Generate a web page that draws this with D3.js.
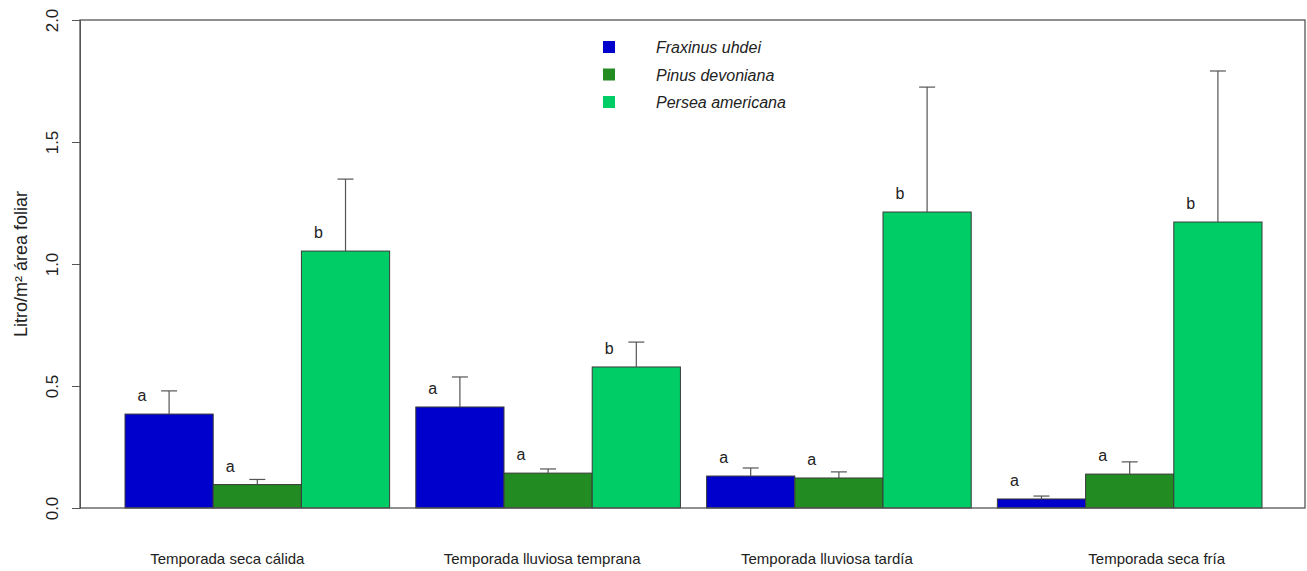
<!DOCTYPE html>
<html lang="es">
<head>
    <meta charset="UTF-8">
    <title>Litro/m² área foliar</title>
</head>

<style>
body {
    margin: 0;
    background: #fff;
}
text {
    font-family: 'Liberation Sans', Arial, sans-serif;
    fill: #222;
}
.bar {
    stroke: #3a3a3a;
    stroke-width: 1;
}
.err {
    stroke: #555;
    stroke-width: 1.2;
}
</style>

<body>
<svg width="1307" height="571"></svg>

<script src="https://d3js.org/d3.v7.min.js"></script>
<script>

    var seasons = ["Temporada seca cálida", "Temporada lluviosa temprana", "Temporada lluviosa tardía", "Temporada seca fría"];
    var species = ["Fraxinus uhdei", "Pinus devoniana", "Persea americana"];

    // mean and upper error value, one entry per season
    var fraxinusMean = [0.385, 0.414, 0.131, 0.037];
    var fraxinusUpper = [0.480, 0.537, 0.164, 0.049];
    var pinusMean = [0.096, 0.143, 0.123, 0.139];
    var pinusUpper = [0.117, 0.160, 0.148, 0.189];
    var perseaMean = [1.053, 0.578, 1.213, 1.172];
    var perseaUpper = [1.348, 0.680, 1.725, 1.791];

    var fraxinusLetters = ["a", "a", "a", "a"];
    var pinusLetters = ["a", "a", "a", "a"];
    var perseaLetters = ["b", "b", "b", "b"];

    var yTicks = [0, 0.5, 1, 1.5, 2];

    var colors = ["#0000cd", "#228b22", "#00cd66"];

    var means = [fraxinusMean, pinusMean, perseaMean];
    var uppers = [fraxinusUpper, pinusUpper, perseaUpper];
    var letters = [fraxinusLetters, pinusLetters, perseaLetters];

    var rows = [];
    seasons.forEach(function(s, i) {
        species.forEach(function(sp, j) {
            rows.push({season: s, species: sp, idx: j, mean: means[j][i], upper: uppers[j][i], letter: letters[j][i]});
        });
    });

    var svg = d3.select("svg");
    var plot = {left: 80, right: 1305, top: 20, bottom: 508};

    var x0 = d3.scaleBand().domain(seasons).range([125, 1262]).paddingInner(0.09).paddingOuter(0);
    var x1 = d3.scaleBand().domain(species).range([0, x0.bandwidth()]);
    var y = d3.scaleLinear().domain([0, 2]).range([plot.bottom, plot.top]);

    // bars
    svg.selectAll(".bar")
        .data(rows)
        .enter()
        .append("rect")
        .attr("class", "bar")
        .attr("x", function(d) { return x0(d.season) + x1(d.species); })
        .attr("y", function(d) { return y(d.mean); })
        .attr("width", x1.bandwidth())
        .attr("height", function(d) { return y(0) - y(d.mean); })
        .attr("fill", function(d) { return colors[d.idx]; });

    // error bars
    var capHalf = 8;
    var errs = svg.selectAll(".errg")
        .data(rows)
        .enter()
        .append("g")
        .attr("transform", function(d) {
            return "translate(" + (x0(d.season) + x1(d.species) + x1.bandwidth() / 2) + ",0)";
        });
    errs.append("line")
        .attr("class", "err")
        .attr("y1", function(d) { return y(d.mean); })
        .attr("y2", function(d) { return y(d.upper); });
    errs.append("line")
        .attr("class", "err")
        .attr("x1", -capHalf)
        .attr("x2", capHalf)
        .attr("y1", function(d) { return y(d.upper); })
        .attr("y2", function(d) { return y(d.upper); });

    // significance letters
    svg.selectAll(".letter")
        .data(rows)
        .enter()
        .append("text")
        .attr("x", function(d) { return x0(d.season) + x1(d.species) + 17; })
        .attr("y", function(d) { return y(d.mean) - 13; })
        .attr("text-anchor", "middle")
        .attr("font-size", 16)
        .text(function(d) { return d.letter; });

    // frame
    svg.append("rect")
        .attr("x", plot.left)
        .attr("y", plot.top)
        .attr("width", plot.right - plot.left)
        .attr("height", plot.bottom - plot.top)
        .attr("fill", "none")
        .attr("stroke", "#555")
        .attr("stroke-width", 1.3);

    // y axis
    var yAxis = d3.axisLeft(y)
        .tickValues(yTicks)
        .tickFormat(d3.format(".1f"))
        .tickSize(8)
        .tickPadding(4);
    var yg = svg.append("g")
        .attr("transform", "translate(" + plot.left + ",0)")
        .call(yAxis);
    yg.select(".domain").attr("stroke", "#555");
    yg.selectAll(".tick line").attr("stroke", "#555");
    yg.selectAll(".tick text")
        .attr("font-size", 17)
        .attr("fill", "#333")
        .attr("x", null)
        .attr("dy", null)
        .attr("text-anchor", "middle")
        .attr("transform", "translate(-22,0) rotate(-90)");

    svg.append("text")
        .attr("transform", "translate(27," + ((plot.top + plot.bottom) / 2) + ") rotate(-90)")
        .attr("text-anchor", "middle")
        .attr("font-size", 18)
        .text("Litro/m² área foliar");

    // season labels
    var labelShift = [-30, -6, -12, 27];
    svg.selectAll(".season")
        .data(seasons)
        .enter()
        .append("text")
        .attr("x", function(d, i) { return x0(d) + x0.bandwidth() / 2 + labelShift[i]; })
        .attr("y", 564)
        .attr("text-anchor", "middle")
        .attr("font-size", 15)
        .text(function(d) { return d; });

    // legend
    var legend = svg.selectAll(".legend")
        .data(species)
        .enter()
        .append("g")
        .attr("transform", function(d, i) { return "translate(603," + (41 + i * 27.5) + ")"; });
    legend.append("rect")
        .attr("width", 12)
        .attr("height", 12)
        .attr("fill", function(d, i) { return colors[i]; });
    legend.append("text")
        .attr("x", 53)
        .attr("y", 12)
        .attr("font-size", 16)
        .attr("font-style", "italic")
        .text(function(d) { return d; });

</script>
</body>
</html>
